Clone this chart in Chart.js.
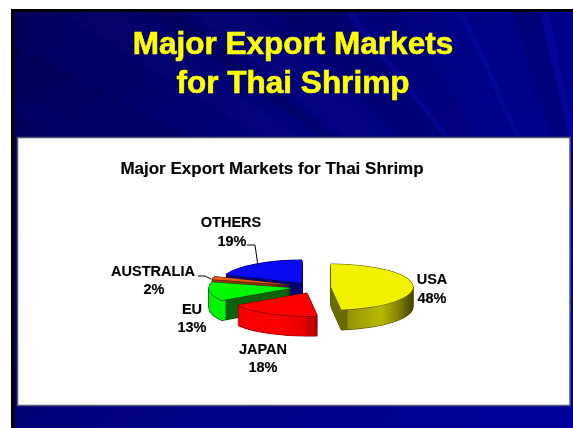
<!DOCTYPE html>
<html><head><meta charset="utf-8">
<style>html,body{margin:0;padding:0;background:#fff}canvas{display:block}</style>
<script src="https://cdn.jsdelivr.net/npm/chart.js@4"></script></head>
<body><canvas id="c" width="573" height="428"></canvas>
<script>
const categories = ['USA','JAPAN','EU','AUSTRALIA','OTHERS'];
const shares = [48,18,13,2,19];
const slideTitle = ['Major Export Markets','for Thai Shrimp'];
const panelTitle = 'Major Export Markets for Thai Shrimp';

const topColors = ['#f0f000','#fe0000','#00fa00','#f05a10','#0a0af0'];
const rimColors = ['#5a5a00','#7a0000','#005000','#602000','#000060'];
const explode = [[29,4],[5,10],[-11,5],[-11,2],[0,0]];
const drawOrder = [4,3,2,0,1];
const pieCentre = {x:302,y:283}, radius = 82, tilt = 0.28, depth = 20;
const titleSize = 31.5, titleLine = 38.4, titleTop = 26.5;
const labelSpots = [[432,280,432,299],[263,350,263,368],[192,310,192,328],[153,272,154,290],[231,223,232,242]];
const leaders = {3:[[198,276],[205,276],[211,279]],4:[[247,245],[255,245],[258,266]]};
const streakFocus = [620,360];
const streaks = [
  [[150,12],[178,12],.2,'#000030'],[[275,12],[345,12],.16,'#000030'],[[345,12],[353,12],.18,'#1a1ad0'],
  [[360,12],[400,12],.1,'#000040'],[[458,12],[465,12],.2,'#1a1ad0'],[[513,12],[540,12],.2,'#000040'],
  [[540,12],[549,12],.2,'#1a1ad0'],[[14,45],[14,95],.12,'#000030'],[[14,110],[14,150],.1,'#000030'],
  [[60,12],[120,12],.08,'#2020a0'],[[190,12],[250,12],.08,'#2020a0']
];

function wallFill(ctx,i,cx){
  const g = ctx.createLinearGradient(cx-radius,0,cx+radius,0);
  const stop=(a,b)=>g.addColorStop(Math.min(1,Math.max(0,(a+radius)/(2*radius))),b);
  if(i===0){stop(-radius,'#6a6a00');stop(16,'#6a6a00');stop(17,'#949408');stop(50,'#b8b800');stop(65,'#8a8a00');stop(82,'#444400');}
  if(i===1){stop(-radius,'#f00000');stop(-30,'#fe0000');stop(-5,'#e80000');stop(14,'#a00000');stop(radius,'#a00000');}
  if(i===2){stop(-radius,'#00f000');stop(-66,'#00fa00');stop(-65,'#0a640a');stop(radius,'#0a640a');}
  if(i===3){stop(-radius,'#8a3a10');stop(radius,'#7a3008');}
  if(i===4){stop(-radius,'#000070');stop(radius,'#000070');}
  return g;
}

const scene = {
  id:'scene',
  beforeDraw(chart){
    const c = chart.ctx, W = chart.width, H = chart.height;
    c.save();
    c.fillStyle='#fff';c.fillRect(0,0,W,H);
    const g=c.createLinearGradient(20,20,W,H);
    g.addColorStop(0,'#00005c');g.addColorStop(.45,'#000080');g.addColorStop(1,'#00009c');
    c.fillStyle=g;c.fillRect(11,9,W-11,H-9);
    streaks.forEach(s=>{c.fillStyle=s[3];c.globalAlpha=s[2];c.beginPath();c.moveTo(streakFocus[0],streakFocus[1]);c.lineTo(s[0][0],s[0][1]);c.lineTo(s[1][0],s[1][1]);c.closePath();c.fill();});
    c.globalAlpha=1;
    c.fillStyle='#000';c.fillRect(11,9,W-11,3);c.fillRect(11,9,3.5,H-9);
    c.fillStyle='#fff';c.fillRect(17.5,137.5,552.5,268);
    c.strokeStyle='#555a70';c.lineWidth=1.5;c.strokeRect(17.5,137.5,552.5,268);
    c.restore();
  },
  beforeDatasetDraw(chart){
    const c = chart.ctx, arcs = chart.getDatasetMeta(0).data;
    drawOrder.forEach(i=>{
      const a = arcs[i], top = a.options.backgroundColor;
      const place = (dx,d)=>{
        c.save();
        c.translate(pieCentre.x+explode[i][0]+dx,pieCentre.y+explode[i][1]+d);
        c.scale(1,tilt);
        c.translate(-a.x,-a.y);
        a.draw(c);
        c.restore();
      };
      a.options.backgroundColor = rimColors[i];
      place(0,depth+.6);place(0,-.5);
      for(let d=depth;d>=0;d--){place(-.5,d);place(.5,d);}
      a.options.backgroundColor = wallFill(c,i,a.x);
      for(let d=depth;d>=1;d--){place(0,d);}
      a.options.backgroundColor = rimColors[i];
      place(0,.7);
      a.options.backgroundColor = top;
      place(0,0);
    });
    return false;
  },
  afterDraw(chart){
    const c = chart.ctx;
    c.save();
    const tb = chart.titleBlock;
    c.font='bold '+titleSize+'px "Liberation Sans"';c.textAlign='center';c.textBaseline='middle';
    c.strokeStyle='#ffff00';c.lineWidth=.6;
    slideTitle.forEach((t,i)=>c.strokeText(t,(tb.left+tb.right)/2,tb.top+titleTop+titleLine*(i+.5)));
    c.fillStyle='#000';c.strokeStyle='#000';c.lineWidth=.15;
    c.font='bold 17px "Liberation Sans"';
    c.fillText(panelTitle,272,169);c.strokeText(panelTitle,272,169);
    c.font='bold 14.5px "Liberation Sans"';
    categories.forEach((n,i)=>{
      const p=labelSpots[i];
      c.fillText(n,p[0],p[1]);c.strokeText(n,p[0],p[1]);
      const v=shares[i]+'%';
      c.fillText(v,p[2],p[3]);c.strokeText(v,p[2],p[3]);
    });
    c.lineWidth=1;
    Object.values(leaders).forEach(l=>{c.beginPath();l.forEach((q,k)=>k?c.lineTo(q[0],q[1]):c.moveTo(q[0],q[1]));c.stroke();});
    c.restore();
  }
};

new Chart(document.getElementById('c'),{
  type:'pie',
  data:{labels:categories,datasets:[{data:shares,backgroundColor:topColors,borderWidth:0,radius:radius}]},
  options:{
    responsive:false,animation:false,
    layout:{padding:{left:13,right:0,top:0,bottom:0}},
    plugins:{
      legend:{display:false},tooltip:{enabled:false},
      title:{display:true,text:slideTitle,color:'#ffff00',font:{family:'"Liberation Sans"',size:titleSize,weight:'bold',lineHeight:titleLine/titleSize},padding:{top:titleTop,bottom:10}}
    }
  },
  plugins:[scene]
});
</script></body></html>
